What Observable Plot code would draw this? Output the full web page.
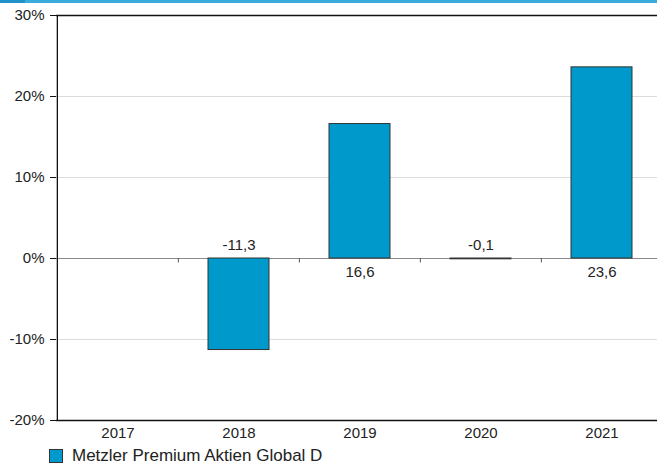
<!DOCTYPE html>
<html>
<head>
<meta charset="utf-8">
<script src="https://cdn.jsdelivr.net/npm/d3@7"></script>
<script src="https://cdn.jsdelivr.net/npm/@observablehq/plot@0.6"></script>
<style>
  body { margin: 0; background: #fff; font-family: "Liberation Sans", Arial, sans-serif; overflow: hidden; }
  #strip { height: 3px; background: linear-gradient(to right, #1f93c9 0, #1f93c9 25px, #3aabdc 25px); }
  #legend { display: flex; align-items: center; margin-left: 49px; margin-top: 6px; font-size: 17px; color: #222; }
  #legend .sw { width: 12px; height: 12px; background: #0099cc; border: 1px solid #333; margin-right: 9px; }
</style>
</head>
<body>
<div id="strip"></div>
<div id="chart"></div>
<div id="legend"><span class="sw"></span><span>Metzler Premium Aktien Global D</span></div>
<script>
const years = ["2017", "2018", "2019", "2020", "2021"];
const values = [null, -11.3, 16.6, -0.1, 23.6];
const yTicks = [-20, -10, 0, 10, 20, 30];
const seriesName = "Metzler Premium Aktien Global D";

const data = years.map((y, i) => ({year: y, value: values[i]})).filter(d => d.value != null);
const fmt = v => v.toFixed(1).replace(".", ",");
const half = 60.65;

const chart = Plot.plot({
  width: 657,
  height: 437,
  marginLeft: 56,
  marginRight: 0,
  marginTop: 12,
  marginBottom: 20,
  style: {fontFamily: "Liberation Sans, Arial, sans-serif", fontSize: "15px", color: "#222", background: "#fff", overflow: "visible"},
  x: {domain: years, range: [56, 662.5], paddingInner: 0.5, paddingOuter: 0.245, label: null},
  y: {domain: [-20, 30], label: null},
  marks: [
    Plot.ruleY([-10, 10, 20], {stroke: "#dcdcdc"}),
    Plot.ruleY([0], {stroke: "#8a8a8a", strokeWidth: 1.2}),
    Plot.barY(data, {x: "year", y: "value", fill: "#0099cc", stroke: "#333", strokeWidth: 1}),
    Plot.ruleX(years.slice(1), {x: d => d, y1: 0, y2: -0.55, dx: -half, stroke: "#555"}),
    Plot.ruleY([30, -20], {stroke: "#111", strokeWidth: 1.3}),
    Plot.ruleX([years[0]], {x: d => d, y1: -20, y2: 30, dx: -half, stroke: "#111", strokeWidth: 1.3}),
    Plot.text(data.filter(d => d.value < 0), {x: "year", y: 0, text: d => fmt(d.value), dy: -13, fill: "#222", fontSize: 15}),
    Plot.text(data.filter(d => d.value >= 0), {x: "year", y: 0, text: d => fmt(d.value), dy: 14, fill: "#222", fontSize: 15}),
    Plot.axisY({ticks: yTicks, tickFormat: d => d + "%", tickSize: 6, tickPadding: 6, fontSize: 15, stroke: "#111"}),
    Plot.axisX({tickSize: 0, tickPadding: 7, fontSize: 15})
  ]
});
document.getElementById("chart").appendChild(chart);
</script>
</body>
</html>
